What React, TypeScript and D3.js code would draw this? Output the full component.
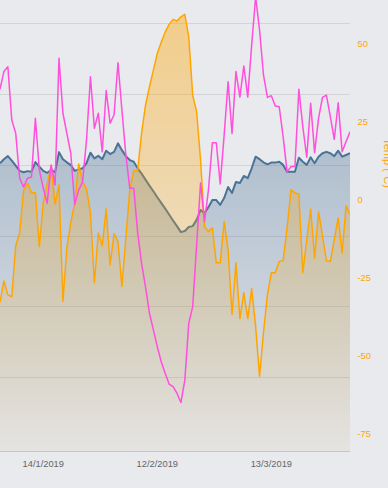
import React, { useEffect, useRef } from "react";
import * as d3 from "d3";

// daily points, 3 Jan 2019 .. 2 Apr 2019
const startDate = new Date(2019, 0, 3);
const endDate = new Date(2019, 3, 2);
const dates = d3.timeDay.range(startDate, d3.timeDay.offset(endDate, 1));

// blue area, left (hidden) axis
const blueValues = [
	75.5, 76.9, 78.0, 76.4, 74.6, 72.8, 72.3, 72.7, 72.5, 75.9,
	74.3, 72.8, 72.1, 73.1, 72.3, 79.4, 76.9, 75.8, 74.8, 72.8,
	73.3, 73.7, 75.5, 79.2, 77.2, 78.1, 76.9, 79.9, 78.7, 79.5,
	82.5, 80.1, 78.0, 76.6, 76.0, 73.7, 71.8, 69.7, 67.6, 65.6,
	63.5, 61.5, 59.5, 57.4, 55.3, 53.3, 51.2, 51.6, 53.0, 53.3,
	55.5, 59.0, 57.9, 60.0, 62.5, 62.5, 60.8, 63.2, 67.1, 65.0,
	68.9, 68.5, 71.0, 70.2, 73.7, 77.8, 76.9, 75.8, 75.1, 75.7,
	75.7, 76.0, 74.9, 72.5, 72.5, 72.5, 77.4, 76.0, 74.9, 77.6,
	75.5, 77.8, 79.0, 79.5, 79.0, 78.0, 79.9, 77.8, 78.4, 79.0,
];

// magenta line, left (hidden) axis
const pinkValues = [
	101.6, 107.8, 109.5, 90.7, 86.0, 70.2, 67.1, 70.2, 70.6, 91.3,
	73.1, 66.7, 61.4, 74.9, 67.8, 112.5, 93.1, 86.0, 79.0, 60.9,
	66.0, 68.9, 83.7, 106.0, 87.8, 93.1, 79.5, 101.1, 89.6, 92.5,
	110.9, 94.3, 78.4, 66.7, 66.7, 51.2, 40.2, 31.9, 22.6, 16.7,
	10.8, 5.5, 1.4, -2.4, -3.3, -5.6, -8.9, -1.0, 19.0, 24.9,
	46.6, 68.5, 54.9, 66.0, 82.7, 82.7, 68.2, 85.4, 104.2, 86.0,
	107.8, 98.8, 109.8, 98.8, 117.2, 134.1, 122.5, 106.6, 98.7, 99.3,
	95.7, 95.4, 84.8, 72.5, 74.3, 74.3, 101.6, 88.4, 77.6, 96.6,
	79.2, 91.3, 98.7, 99.5, 91.9, 83.9, 96.8, 79.5, 83.1, 86.6,
];

// orange area, right axis
const orangeValues = [
	-33.0, -26.1, -30.6, -31.2, -14.8, -10.7, 2.9, 5.2, 2.2, 2.2,
	-15.1, -1.1, 5.0, 10.8, -1.4, 4.7, -32.7, -15.5, -7.5, -1.1,
	11.4, 5.7, 3.4, -4.3, -26.7, -10.7, -14.8, -3.0, -20.9, -11.0,
	-13.5, -27.9, -12.3, 3.1, 9.2, 9.2, 21.3, 30.3, 36.1, 41.5,
	46.9, 50.5, 53.7, 56.2, 57.8, 57.3, 58.6, 59.4, 52.2, 33.5,
	28.2, 12.7, -8.7, -10.3, -9.1, -20.3, -20.3, -7.1, -16.1, -36.9,
	-20.3, -38.2, -29.9, -38.2, -28.6, -40.7, -56.7, -42.7, -30.5, -23.5,
	-23.5, -19.9, -19.6, -9.1, 3.1, 2.1, 1.8, -23.5, -12.9, -3.0,
	-18.7, -3.9, -11.6, -19.6, -19.9, -12.9, -5.9, -17.1, -2.0, -4.9,
];

const xTickDates = [new Date(2019, 0, 14), new Date(2019, 1, 12), new Date(2019, 2, 13)];
const leftTicks = [0, 25, 50, 75, 100, 125];
const rightTicks = [50, 25, 0, -25, -50, -75];
const rightTitle = "Temp (°C)";

const W = 388;
const H = 488;
const plotLeft = 0;
const plotRight = 350;
const plotBottom = 451;
const font = "'Liberation Sans', Arial, sans-serif";

export default function App() {
	const ref = useRef<SVGSVGElement | null>(null);

	useEffect(() => {
		if (!ref.current) return;
		const svg = d3.select(ref.current);
		svg.selectAll("*").remove();

		const x = d3.scaleTime().domain([startDate, endDate]).range([plotLeft, plotRight]);
		const yLeft = d3.scaleLinear().domain([0, 125]).range([377.3, 22.8]);
		const yRight = d3.scaleLinear().domain([-75, 50]).range([433.3, 43.7]);

		svg.append("rect").attr("width", W).attr("height", H).attr("fill", "#e9eaed");

		const defs = svg.append("defs");
		defs.append("clipPath").attr("id", "plot-clip")
			.append("rect").attr("x", plotLeft).attr("y", -20)
			.attr("width", plotRight - plotLeft).attr("height", plotBottom + 20);

		const blueGrad = defs.append("linearGradient").attr("id", "blue-grad")
			.attr("gradientUnits", "userSpaceOnUse")
			.attr("x1", 0).attr("x2", 0).attr("y1", 140).attr("y2", plotBottom);
		blueGrad.append("stop").attr("offset", 0).attr("stop-color", "#466e94").attr("stop-opacity", 0.36);
		blueGrad.append("stop").attr("offset", 1).attr("stop-color", "#466e94").attr("stop-opacity", 0.03);

		const orangeGrad = defs.append("linearGradient").attr("id", "orange-grad")
			.attr("gradientUnits", "userSpaceOnUse")
			.attr("x1", 0).attr("x2", 0).attr("y1", 10).attr("y2", plotBottom);
		orangeGrad.append("stop").attr("offset", 0).attr("stop-color", "#ffa500").attr("stop-opacity", 0.42);
		orangeGrad.append("stop").attr("offset", 1).attr("stop-color", "#ffa500").attr("stop-opacity", 0.04);

		// grid from the left axis
		svg.append("g")
			.selectAll("line")
			.data(leftTicks)
			.enter()
			.append("line")
			.attr("x1", plotLeft).attr("x2", plotRight)
			.attr("y1", (d) => Math.round(yLeft(d)) + 0.5)
			.attr("y2", (d) => Math.round(yLeft(d)) + 0.5)
			.attr("stroke", "#d3d4d6").attr("stroke-width", 1);

		const plot = svg.append("g").attr("clip-path", "url(#plot-clip)");

		const blueArea = d3.area<number>()
			.x((_, i) => x(dates[i]))
			.y0(plotBottom)
			.y1((d) => yLeft(d));
		const blueLine = d3.line<number>()
			.x((_, i) => x(dates[i]))
			.y((d) => yLeft(d));
		plot.append("path").attr("d", blueArea(blueValues)).attr("fill", "url(#blue-grad)");
		plot.append("path").attr("d", blueLine(blueValues))
			.attr("fill", "none").attr("stroke", "#4a7397").attr("stroke-width", 2)
			.attr("stroke-linejoin", "round");

		const orangeArea = d3.area<number>()
			.x((_, i) => x(dates[i]))
			.y0(plotBottom)
			.y1((d) => yRight(d));
		const orangeLine = d3.line<number>()
			.x((_, i) => x(dates[i]))
			.y((d) => yRight(d));
		plot.append("path").attr("d", orangeArea(orangeValues)).attr("fill", "url(#orange-grad)");
		plot.append("path").attr("d", orangeLine(orangeValues))
			.attr("fill", "none").attr("stroke", "#ffa500").attr("stroke-width", 1.5)
			.attr("stroke-linejoin", "round");

		const pinkLine = d3.line<number>()
			.x((_, i) => x(dates[i]))
			.y((d) => yLeft(d));
		plot.append("path").attr("d", pinkLine(pinkValues))
			.attr("fill", "none").attr("stroke", "#ff4fdc").attr("stroke-width", 1.5)
			.attr("stroke-linejoin", "round");

		// x axis
		svg.append("line")
			.attr("x1", plotLeft).attr("x2", plotRight)
			.attr("y1", plotBottom + 0.5).attr("y2", plotBottom + 0.5)
			.attr("stroke", "#c4c6c9").attr("stroke-width", 1);

		const fmt = d3.timeFormat("%-d/%-m/%Y");
		svg.append("g")
			.selectAll("text")
			.data(xTickDates)
			.enter()
			.append("text")
			.attr("x", (d) => x(d))
			.attr("y", 466.5)
			.attr("text-anchor", "middle")
			.attr("font-family", font)
			.attr("font-size", 9.3)
			.attr("fill", "#666666")
			.text((d) => fmt(d));

		// right axis
		svg.append("g")
			.selectAll("text")
			.data(rightTicks)
			.enter()
			.append("text")
			.attr("x", 357.5)
			.attr("y", (d) => yRight(d))
			.attr("dy", "0.35em")
			.attr("font-family", font)
			.attr("font-size", 9.3)
			.attr("fill", "#ffa500")
			.text((d) => d);

		// axis title, partly outside the frame as in the source
		svg.append("text")
			.attr("transform", `translate(383.5,163) rotate(90)`)
			.attr("text-anchor", "middle")
			.attr("font-family", font)
			.attr("font-size", 11)
			.attr("fill", "#ffa500")
			.text(rightTitle);

		return () => {
			svg.selectAll("*").remove();
		};
	}, []);

	return (
		<svg
			ref={ref}
			width={W}
			height={H}
			style={{ position: "absolute", left: 0, top: 0, display: "block" }}
		/>
	);
}
